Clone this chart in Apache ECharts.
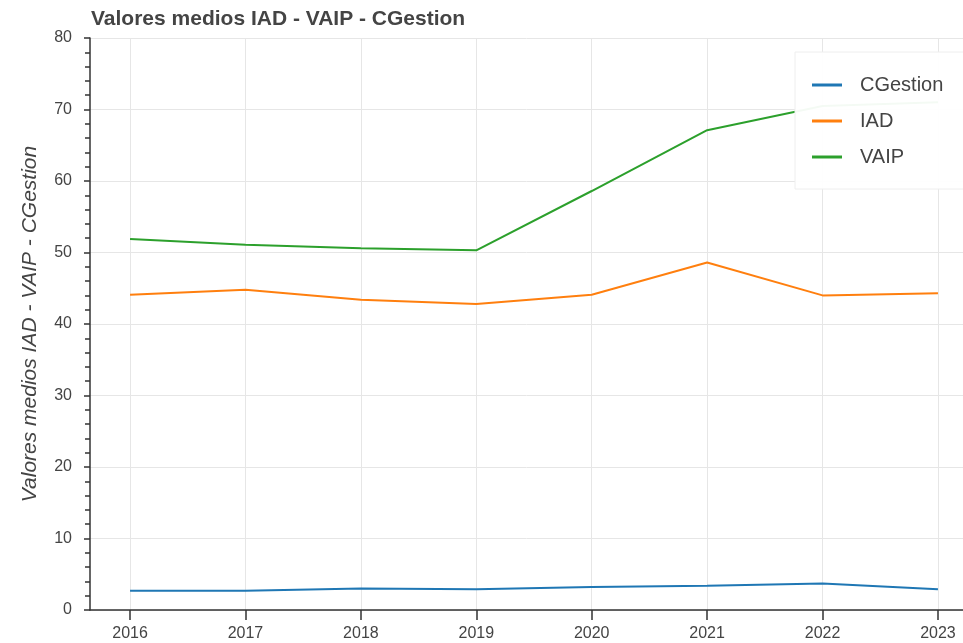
<!DOCTYPE html>
<html>
<head>
<meta charset="utf-8">
<script src="https://cdn.jsdelivr.net/npm/echarts@6/dist/echarts.min.js"></script>
<style>
  html, body { margin: 0; padding: 0; background: #fff; }
  #chart { width: 963px; height: 643px; }
</style>
</head>
<body>
<div id="chart"></div>
<script>
  // valores
  const years = [2016, 2017, 2018, 2019, 2020, 2021, 2022, 2023]
  const cgestion = [2.7, 2.7, 3.0, 2.9, 3.2, 3.4, 3.7, 2.9]
  const iad = [44.1, 44.8, 43.4, 42.8, 44.1, 48.6, 44.0, 44.3]
  const vaip = [51.9, 51.1, 50.6, 50.3, 58.6, 67.1, 70.5, 71.0]
  const yTicks = [0, 10, 20, 30, 40, 50, 60, 70, 80]

  const pairs = (vals) => years.map((y, i) => [y, vals[i]])

  const axisColor = '#333'
  const textColor = '#444'
  const gridColor = '#e6e6e6'
  const font = 'Liberation Sans, Arial, Helvetica, sans-serif'

  const lineSeries = (name, vals, color) => ({
    name: name,
    type: 'line',
    data: pairs(vals),
    showSymbol: false,
    symbol: 'none',
    lineStyle: { width: 2, color: color },
    itemStyle: { color: color },
    animation: false
  })

  let myChart = echarts.init(document.getElementById('chart'))
  let option = {
    backgroundColor: '#fff',
    title: {
      text: 'Valores medios IAD - VAIP - CGestion',
      left: 86,
      top: 4,
      textStyle: { fontFamily: font, fontSize: 21, fontWeight: 'bold', color: textColor }
    },
    legend: {
      orient: 'vertical',
      left: 795,
      top: 52,
      padding: [23, 40, 22, 17],
      itemGap: 16,
      itemWidth: 30,
      itemHeight: 3,
      icon: 'rect',
      backgroundColor: 'rgba(255,255,255,0.95)',
      borderColor: '#eeeeee',
      borderWidth: 1,
      textStyle: { fontFamily: font, fontSize: 20, color: textColor, padding: [0, 0, 0, 13] },
      data: ['CGestion', 'IAD', 'VAIP']
    },
    grid: {
      left: 90,
      right: 0,
      top: 38,
      bottom: 33,
      outerBoundsMode: 'none'
    },
    xAxis: {
      type: 'value',
      min: 2015.653,
      max: 2023.217,
      axisLine: { show: true, onZero: false, lineStyle: { color: axisColor, width: 1.5 } },
      axisTick: { show: true, length: 10, customValues: years, lineStyle: { color: axisColor, width: 1.5 } },
      axisLabel: {
        customValues: years,
        margin: 16,
        fontFamily: font,
        fontSize: 16,
        color: textColor,
        formatter: (v) => String(v)
      },
      splitLine: { show: true, lineStyle: { color: gridColor } }
    },
    yAxis: {
      type: 'value',
      min: 0,
      max: 80,
      interval: 10,
      name: 'Valores medios IAD - VAIP - CGestion',
      nameLocation: 'middle',
      nameGap: 49,
      nameTextStyle: { fontFamily: font, fontSize: 21, fontStyle: 'italic', color: textColor },
      axisLine: { show: true, lineStyle: { color: axisColor, width: 1.5 } },
      axisTick: { show: true, length: 6, lineStyle: { color: axisColor, width: 1.5 } },
      minorTick: { show: true, splitNumber: 5, length: 5, lineStyle: { color: axisColor, width: 1.5 } },
      axisLabel: {
        customValues: yTicks,
        margin: 18,
        fontFamily: font,
        fontSize: 16,
        color: textColor
      },
      splitLine: { show: true, lineStyle: { color: gridColor } }
    },
    series: [
      lineSeries('CGestion', cgestion, '#1f77b4'),
      lineSeries('IAD', iad, '#ff7f0e'),
      lineSeries('VAIP', vaip, '#2ca02c')
    ]
  }
  myChart.setOption(option)
</script>
</body>
</html>
